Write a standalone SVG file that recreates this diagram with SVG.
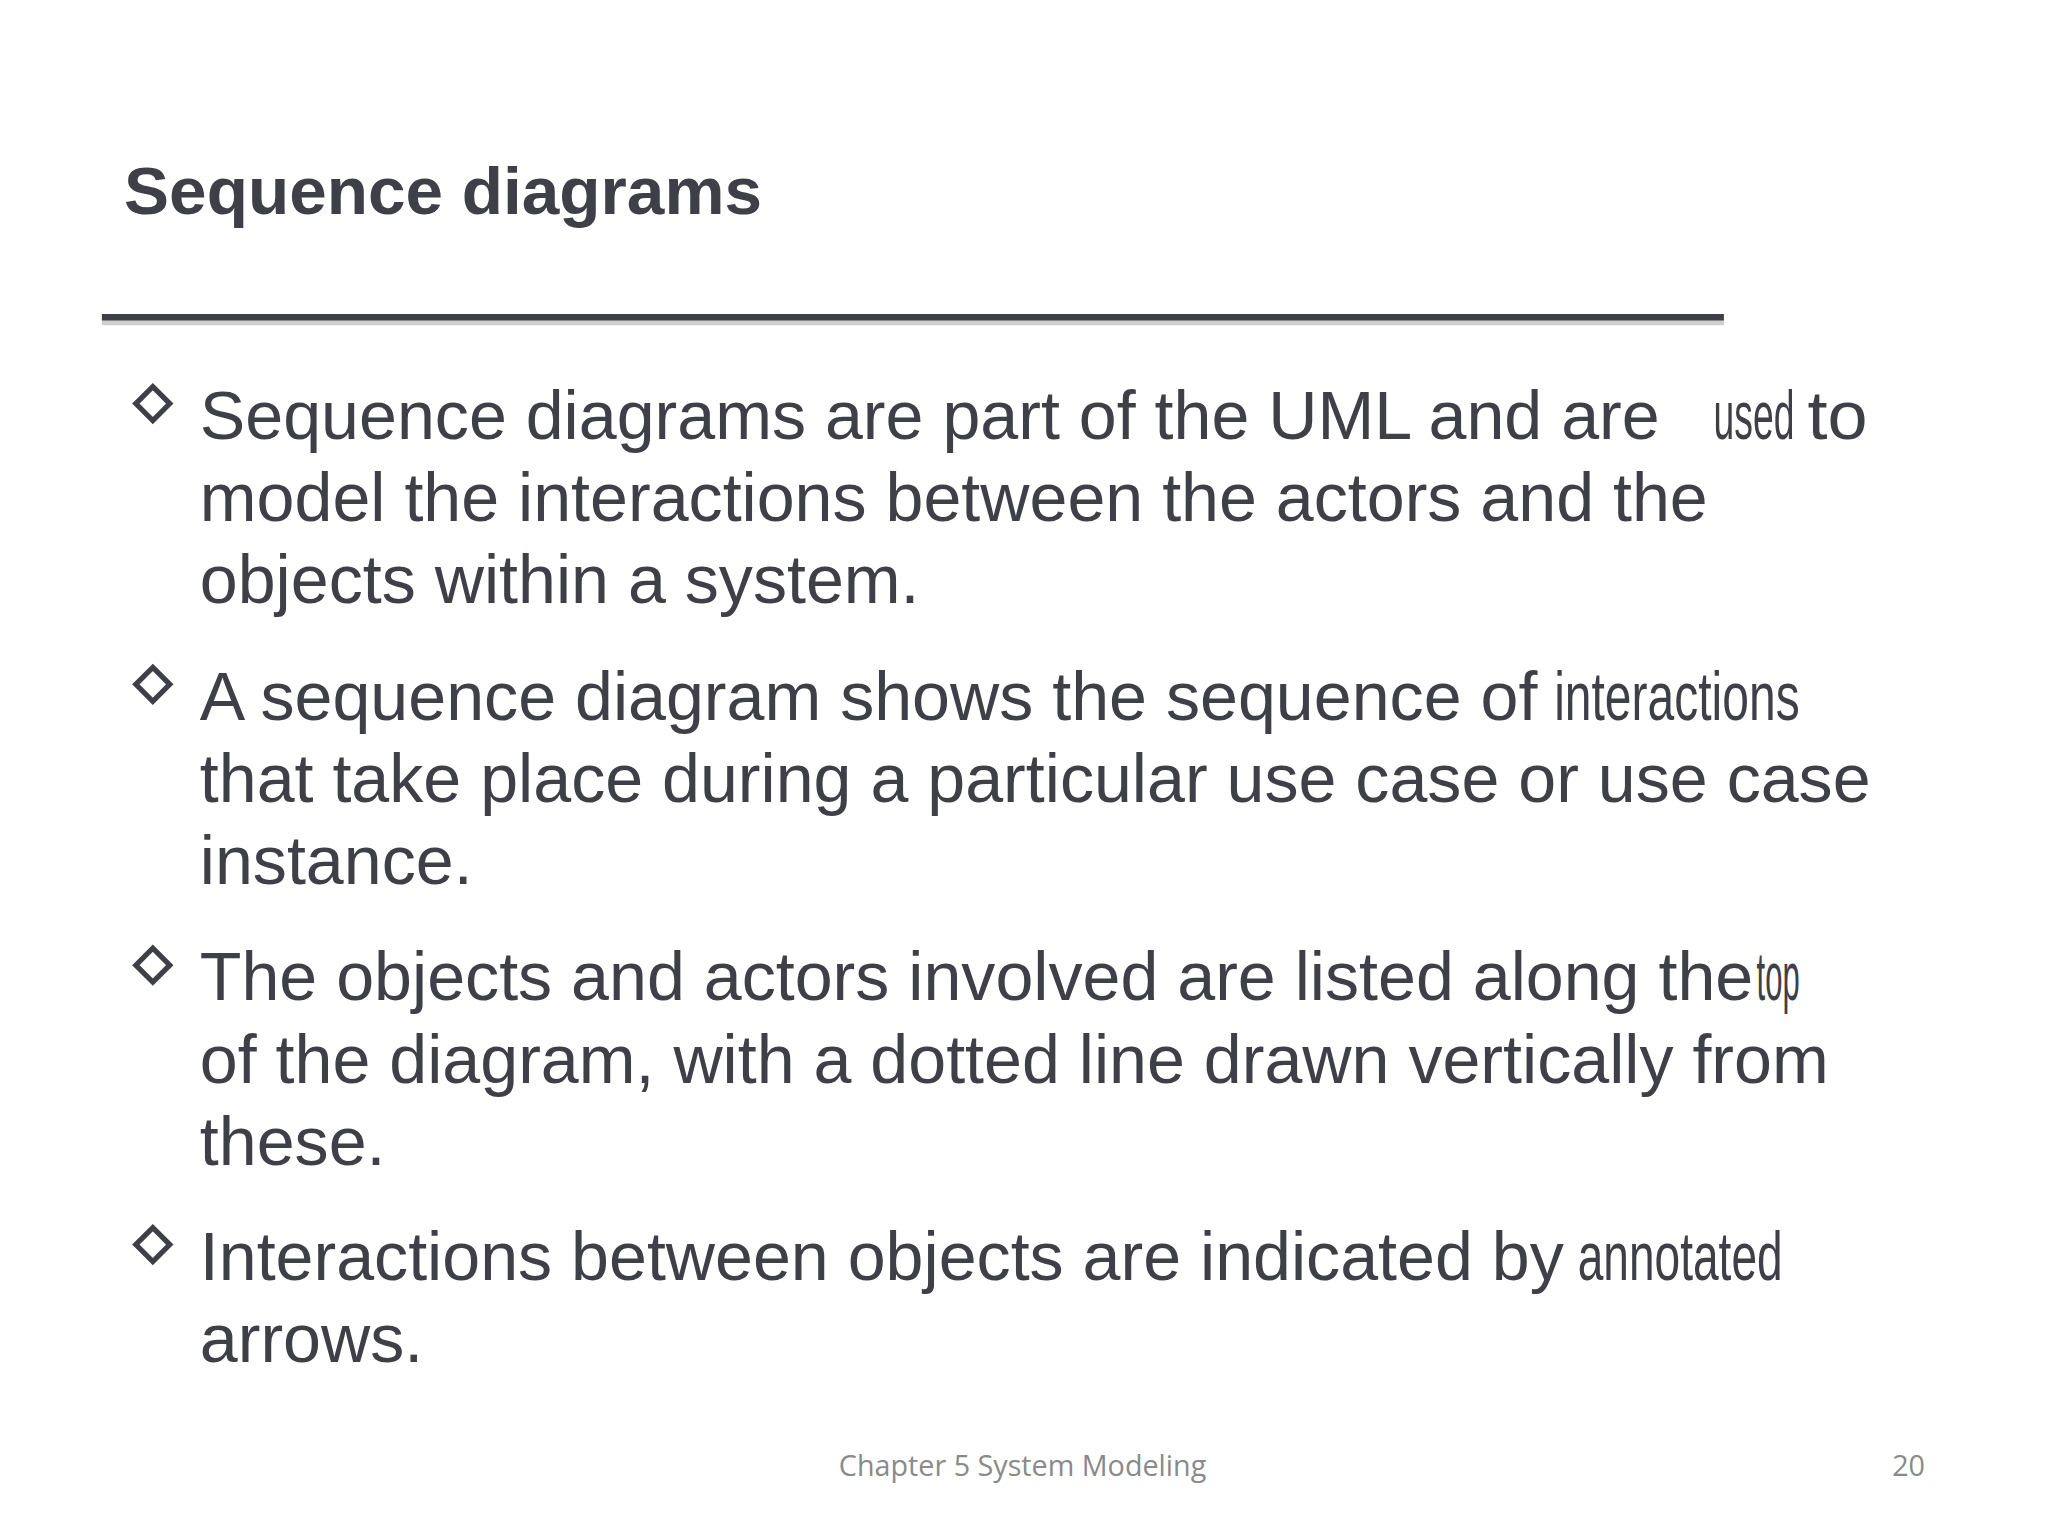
<svg xmlns="http://www.w3.org/2000/svg" width="2048" height="1536" viewBox="0 0 2048 1536">
<style>
.t{font-family:"Liberation Sans",Arial,sans-serif;fill:#3f3f48}
.b{font-size:52.2px}
.d{fill:none;stroke:#3f3f48;stroke-width:4}
.f{font-family:"Open Sans","Noto Sans",sans-serif;font-size:22px;fill:#8a8a8a}
</style>
<rect width="2048" height="1536" fill="#fff"/>
<g transform="scale(1.306)">
<g id="title"><text class="t" x="95" y="164" font-size="51.7" font-weight="bold">Sequence diagrams</text></g>
<g id="rule">
<line x1="78" y1="247" x2="1320" y2="247" stroke="#cfcfcf" stroke-width="4"/>
<line x1="78" y1="243" x2="1320" y2="243" stroke="#3f3f48" stroke-width="5"/>
</g>
<g id="bullets">
<path class="d" d="M117 296 L130 309 L117 322 L104 309 Z"/>
<path class="d" d="M117 511 L130 524 L117 537 L104 524 Z"/>
<path class="d" d="M117 726 L130 739 L117 752 L104 739 Z"/>
<path class="d" d="M117 940 L130 953 L117 966 L104 953 Z"/>
<text class="t b" x="153" y="336">Sequence diagrams are part of the UML and are <tspan x="1312" textLength="62" lengthAdjust="spacingAndGlyphs">used</tspan><tspan x="1384" textLength="46" lengthAdjust="spacingAndGlyphs">to</tspan></text>
<text class="t b" x="153" y="399">model the interactions between the actors and the</text>
<text class="t b" x="153" y="462">objects within a system.</text>
<text class="t b" x="153" y="551">A sequence diagram shows the sequence of <tspan x="1190" textLength="188" lengthAdjust="spacingAndGlyphs">interactions</tspan></text>
<text class="t b" x="153" y="614">that take place during a particular use case or use case</text>
<text class="t b" x="153" y="677">instance.</text>
<text class="t b" x="153" y="766">The objects and actors involved are listed along the <tspan x="1345" textLength="33" lengthAdjust="spacingAndGlyphs">top</tspan></text>
<text class="t b" x="153" y="829">of  the diagram, with a dotted line drawn vertically from</text>
<text class="t b" x="153" y="892">these.</text>
<text class="t b" x="153" y="980">Interactions between objects are indicated by <tspan x="1208" textLength="157" lengthAdjust="spacingAndGlyphs">annotated</tspan></text>
<text class="t b" x="153" y="1043">arrows.</text>
</g>
<g id="footer">
<text class="f" x="783" y="1130" text-anchor="middle">Chapter 5 System Modeling</text>
<text class="f" x="1474" y="1130" text-anchor="end">20</text>
</g>
</g>
</svg>
